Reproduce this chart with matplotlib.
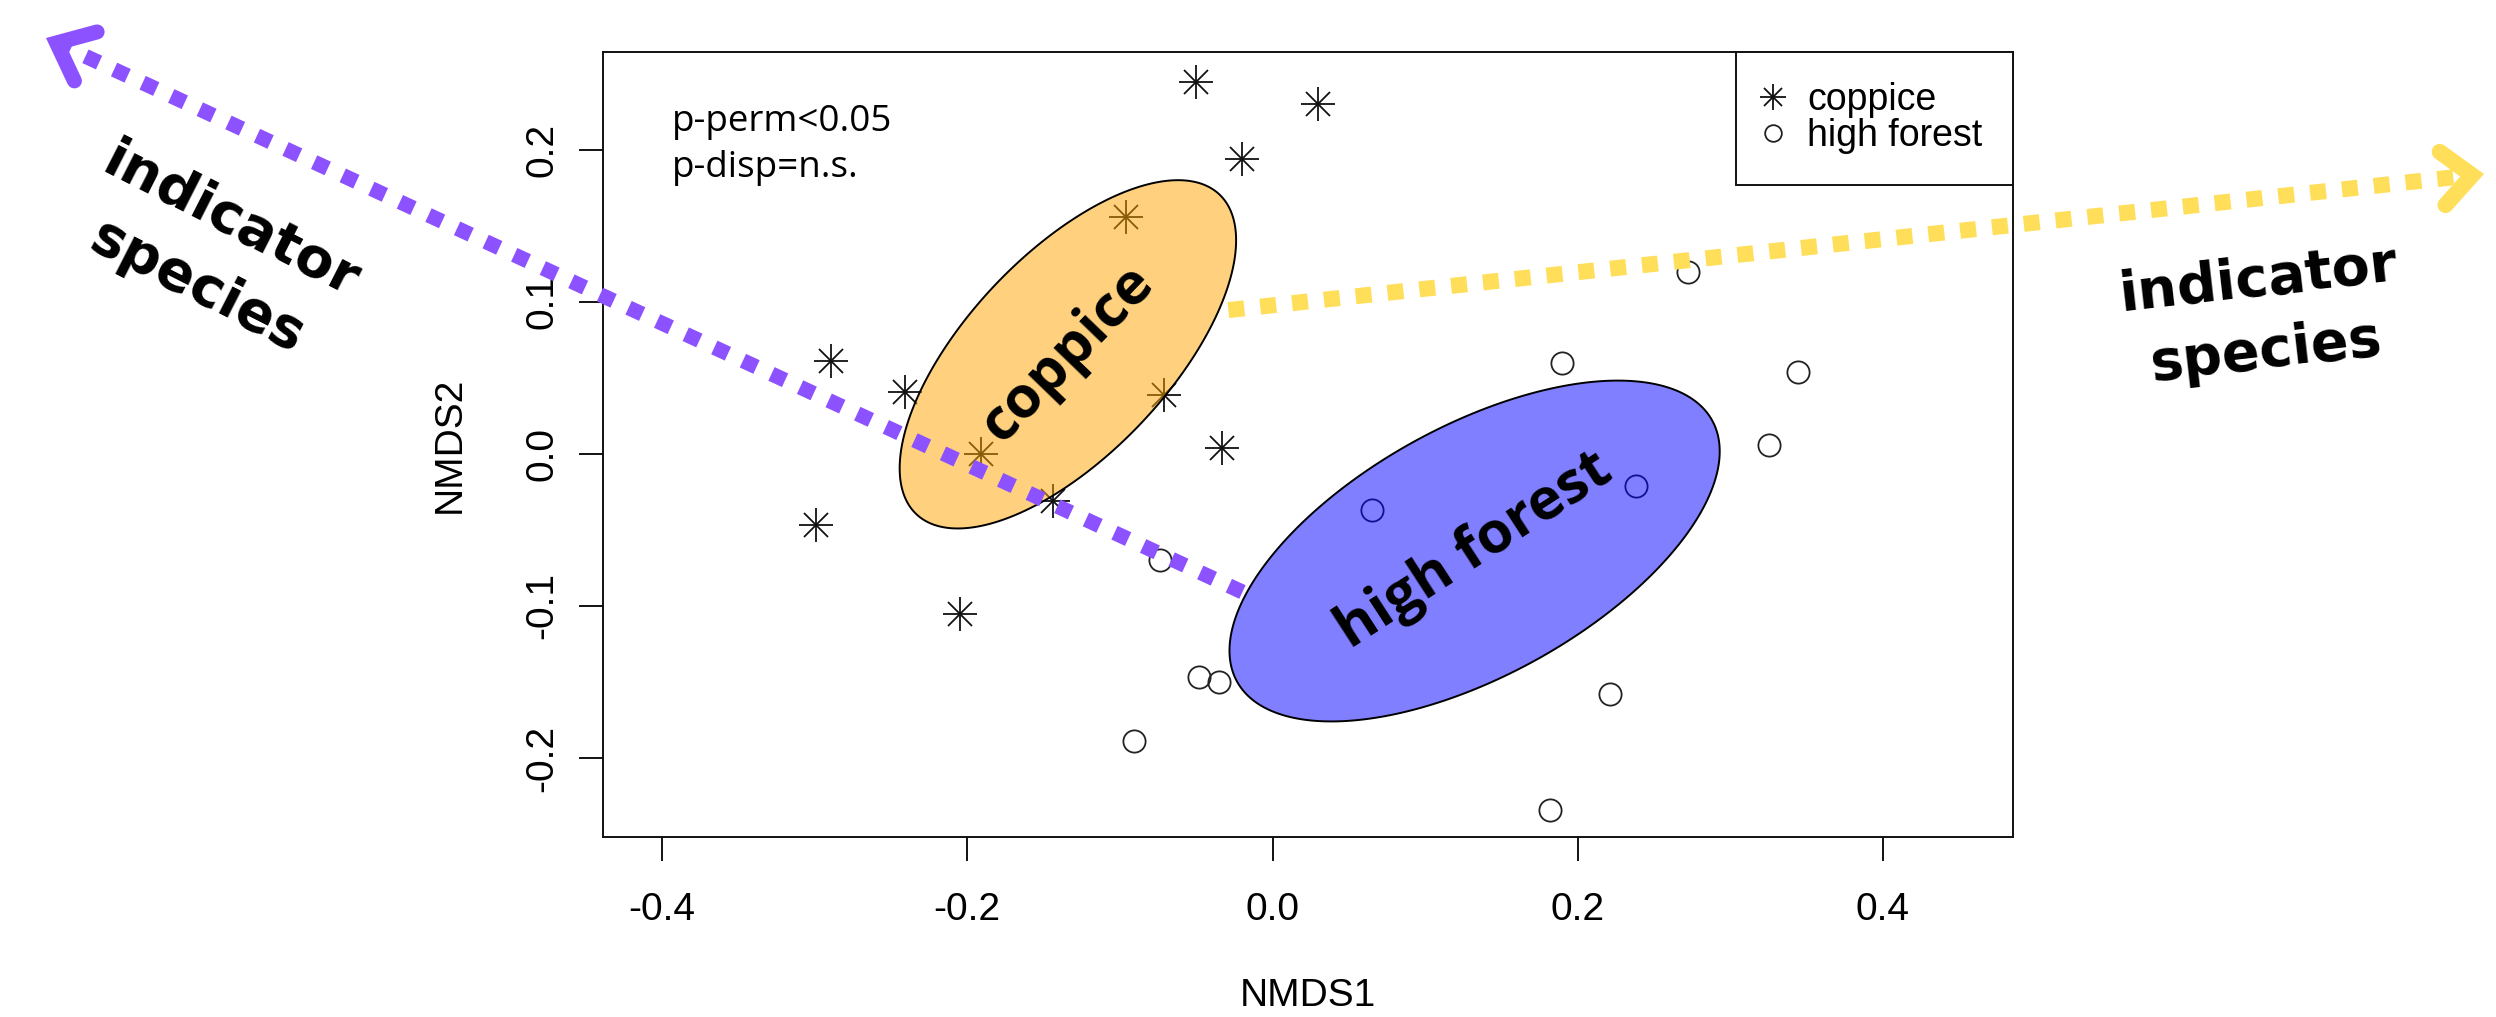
import numpy as np
import matplotlib
matplotlib.use("Agg")
import matplotlib.pyplot as plt
from matplotlib.legend_handler import HandlerTuple

# ---------------- data ----------------
coppice_x = [-0.050, 0.030, -0.020, -0.096, -0.289, -0.241, -0.071, -0.191, -0.033, -0.299, -0.144, -0.205]
coppice_y = [0.245, 0.230, 0.194, 0.156, 0.061, 0.041, 0.039, 0.000, 0.004, -0.047, -0.031, -0.105]
high_x = [0.272, 0.190, 0.344, 0.325, 0.065, 0.238, -0.074, -0.048, -0.035, -0.091, 0.221, 0.182]
high_y = [0.120, 0.060, 0.054, 0.006, -0.037, -0.021, -0.070, -0.147, -0.150, -0.189, -0.158, -0.234]
groups = ["coppice", "high forest"]
x_ticks = [-0.4, -0.2, 0.0, 0.2, 0.4]
y_ticks = [-0.2, -0.1, 0.0, 0.1, 0.2]
stats_lines = ["p-perm<0.05", "p-disp=n.s."]
indicator_text = "indicator\nspecies"
xlabel, ylabel = "NMDS1", "NMDS2"

# ---------------- figure ----------------
W, H = 2496, 1017
fig = plt.figure(figsize=(W / 100, H / 100), dpi=100)
fig.patch.set_facecolor("white")
ax = fig.add_axes([603 / W, 1 - 837.3 / H, (2013 - 603) / W, (837.3 - 51.7) / H])
ax.set_xlim(-0.4387, 0.4852)
ax.set_ylim(-0.2522, 0.2647)

AX_FONT = "Liberation Sans"
FS = 28

# points
def asterisk(xs, ys, size, lw, color, z):
    p = ax.plot(xs, ys, ls="none", marker="+", ms=size, mew=lw, color=color, zorder=z)[0]
    q = ax.plot(xs, ys, ls="none", marker="x", ms=size / np.sqrt(2), mew=lw, color=color, zorder=z)[0]
    return p, q

h_cop = asterisk(coppice_x, coppice_y, 25, 1.3, "#111111", 2)
h_high = ax.plot(high_x, high_y, ls="none", marker="o", ms=16, mew=1.3,
                 mfc="none", mec="#222222", zorder=2)[0]

# 1-SD covariance ellipses (like vegan::ordiellipse kind="sd")
def sd_ellipse(xs, ys, n=300):
    pts = np.column_stack([xs, ys])
    c = pts.mean(axis=0)
    L = np.linalg.cholesky(np.cov(pts.T))
    t = np.linspace(0, 2 * np.pi, n)
    e = c[:, None] + L @ np.vstack([np.cos(t), np.sin(t)])
    return c, e

c_cop, e_cop = sd_ellipse(coppice_x, coppice_y)
c_high, e_high = sd_ellipse(high_x, high_y)
ax.fill(e_cop[0], e_cop[1], facecolor=(1.0, 0.647, 0.0, 0.5), edgecolor="black", lw=1.4, zorder=3)
ax.fill(e_high[0], e_high[1], facecolor=(0.0, 0.0, 1.0, 0.5), edgecolor="black", lw=1.4, zorder=3)

ax.text(c_cop[0], c_cop[1], groups[0], rotation=46, ha="center", va="center",
        rotation_mode="anchor", fontsize=42, fontweight="bold", family="Open Sans", zorder=5)
ax.text(c_high[0], c_high[1], groups[1], rotation=33, ha="center", va="center",
        rotation_mode="anchor", fontsize=42, fontweight="bold", family="Open Sans", zorder=5)

# stats text
ax.text(0.0489, 0.8991, stats_lines[0], transform=ax.transAxes, va="baseline", ha="left",
        fontsize=26.5, family="Open Sans", zorder=5)
ax.text(0.0489, 0.8405, stats_lines[1], transform=ax.transAxes, va="baseline", ha="left",
        fontsize=26.5, family="Open Sans", zorder=5)

# axes styling
for s in ax.spines.values():
    s.set_linewidth(1.4)
    s.set_color("#111111")
ax.set_xticks(x_ticks)
ax.set_yticks(y_ticks)
ax.set_xticklabels([f"{v:.1f}" for v in x_ticks])
ax.set_yticklabels([f"{v:.1f}" for v in y_ticks])
ax.tick_params(axis="both", direction="out", length=17, width=1.4, color="#111111",
               labelsize=FS)
ax.tick_params(axis="x", pad=22.5)
ax.tick_params(axis="y", pad=13.7, labelrotation=90)
for lab in ax.get_xticklabels() + ax.get_yticklabels():
    lab.set_family(AX_FONT)
for lab in ax.get_yticklabels():
    lab.set_va("center")
ax.set_xlabel(xlabel, fontsize=FS, family=AX_FONT, labelpad=36)
ax.set_ylabel(ylabel, fontsize=FS, family=AX_FONT, labelpad=41)

# legend
leg = ax.legend([h_cop, h_high], groups, loc="upper right", borderaxespad=0,
                handler_map={tuple: HandlerTuple(ndivide=1)},
                prop={"family": AX_FONT, "size": 27}, frameon=True, fancybox=False,
                edgecolor="#111111", framealpha=1, borderpad=0.82, labelspacing=0.0,
                handlelength=0.32, handletextpad=0.75, markerscale=0.75)
leg.get_frame().set_linewidth(1.4)
leg.set_zorder(6)

# ---------------- annotation overlay ----------------
ov = fig.add_axes([0, 0, 1, 1], zorder=10)
ov.set_xlim(0, W)
ov.set_ylim(H, 0)
ov.axis("off")
ov.patch.set_alpha(0)

def to_ov(pt):
    return ov.transData.inverted().transform(ax.transData.transform(pt))

def dotted_arrow(start, tip, color, lw_px, dash_px, gap_px, half_angle, arm_len):
    s = np.asarray(start, float)
    t = np.asarray(tip, float)
    u = (t - s) / np.linalg.norm(t - s)
    joint = t - u * (lw_px / 2) / np.sin(np.radians(half_angle))
    lw_pt = lw_px * 0.72
    ov.plot([s[0], joint[0]], [s[1], joint[1]], color=color, lw=lw_pt,
            dashes=(dash_px / lw_px, gap_px / lw_px), dash_capstyle="butt")
    arms = []
    for sgn in (1, -1):
        a = np.radians(sgn * half_angle)
        R = np.array([[np.cos(a), -np.sin(a)], [np.sin(a), np.cos(a)]])
        arms.append(joint - arm_len * (R @ u))
    ov.plot([arms[0][0], joint[0], arms[1][0]], [arms[0][1], joint[1], arms[1][1]],
            color=color, lw=lw_pt, solid_joinstyle="miter", solid_capstyle="round")

PURPLE = "#8C52FF"
YELLOW = "#FFDE59"
dotted_arrow(to_ov((-0.0197, -0.0908)), (46, 38), PURPLE, 15, 15, 16.5, 40, 42)
dotted_arrow(to_ov((-0.0289, 0.0947)), (2484, 174), YELLOW, 16, 16, 16, 42, 40)

ov.text(214, 254, indicator_text, rotation=-27, ha="center", va="center",
        multialignment="center", rotation_mode="anchor", fontsize=40,
        fontweight="bold", family="DejaVu Sans", linespacing=1.45)
ov.text(2262, 316, indicator_text, rotation=6.5, ha="center", va="center",
        multialignment="center", rotation_mode="anchor", fontsize=40,
        fontweight="bold", family="DejaVu Sans", linespacing=1.45)

fig.savefig("out.png", dpi=100)
